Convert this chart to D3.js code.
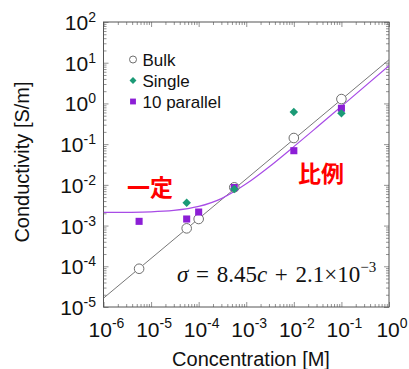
<!DOCTYPE html>
<html><head><meta charset="utf-8">
<script src="https://cdn.jsdelivr.net/npm/d3@7"></script>
<style>body{margin:0;background:#fff}svg{display:block}</style></head>
<body>
<svg id="c" width="409" height="369"></svg>
<script>
// ---- data ----
const bulkConc = [5.6e-6, 5.6e-5, 1e-4, 5.6e-4, 1e-2, 1e-1];
const bulk = [8.7e-5, 8.55e-4, 1.45e-3, 8.7e-3, 0.1415, 1.28];
const singleConc = [5.6e-5, 5.6e-4, 1e-2, 1e-1];
const single = [3.65e-3, 7.9e-3, 0.615, 0.57];
const parallelConc = [5.6e-6, 5.6e-5, 1e-4, 5.6e-4, 1e-2, 1e-1];
const parallel10 = [1.27e-3, 1.45e-3, 2.15e-3, 8.6e-3, 0.069, 0.76];
const bulkFitConc = [1e-6, 1];
const bulkFit = [1.65e-5, 11.8];
const fitConc = [1e-6, 1e-5, 3e-5, 1e-4, 3e-4, 1e-3, 3e-3, 1e-2, 3e-2, 1e-1, 1];
const fitSigma = [2.1e-3, 2.18e-3, 2.35e-3, 2.95e-3, 4.6e-3, 1.06e-2, 2.75e-2, 8.7e-2, 0.256, 0.847, 8.45];
const xTickValues = [1e-6, 1e-5, 1e-4, 1e-3, 1e-2, 1e-1, 1];
const xTickExps = ["-6", "-5", "-4", "-3", "-2", "-1", "0"];
const yTickValues = [1e-5, 1e-4, 1e-3, 1e-2, 1e-1, 1, 1e1, 1e2];
const yTickExps = ["-5", "-4", "-3", "-2", "-1", "0", "1", "2"];
const legendLabels = ["Bulk", "Single", "10 parallel"];
const xTitle = "Concentration [M]";
const yTitle = "Conductivity [S/m]";
const noteConst = "一定";
const noteProp = "比例";

// ---- layout ----
const L = 103.5, R = 389, T = 22, B = 307;
const svg = d3.select("#c");
const x = d3.scaleLog().domain([1e-6, 1]).range([L, R]);
const y = d3.scaleLog().domain([1e-5, 1e2]).range([B, T]);
const sans = "'Liberation Sans', Arial, sans-serif";
const cjk = "'Noto Sans CJK JP', sans-serif";
const serif = "'Liberation Serif', 'Times New Roman', serif";
const cGreen = "#1b9a76", cPurple = "#8c1ed6", cPurpleLine = "#a84ce6", cGray = "#6e6e6e";

svg.append("rect").attr("width", 409).attr("height", 369).attr("fill", "#fff");

// axes with inward ticks
const xMinor = x.ticks().filter(v => !xTickValues.some(t => Math.abs(t - v) / t < 1e-6));
const yMinor = y.ticks().filter(v => !yTickValues.some(t => Math.abs(t - v) / t < 1e-6));
function ax(gen, tr, vals, size) {
  const g = svg.append("g").attr("transform", tr)
    .call(gen.tickValues(vals).tickSize(size).tickSizeOuter(0).tickFormat(""));
  g.select(".domain").remove();
  g.selectAll("line").attr("stroke", "#777").attr("stroke-width", 0.8);
}
ax(d3.axisBottom(x), `translate(0,${B})`, xTickValues, -5);
ax(d3.axisBottom(x), `translate(0,${B})`, xMinor, -3);
ax(d3.axisTop(x), `translate(0,${T})`, xTickValues, -5);
ax(d3.axisTop(x), `translate(0,${T})`, xMinor, -3);
ax(d3.axisLeft(y), `translate(${L},0)`, yTickValues, -5);
ax(d3.axisLeft(y), `translate(${L},0)`, yMinor, -3);
ax(d3.axisRight(y), `translate(${R},0)`, yTickValues, -5);
ax(d3.axisRight(y), `translate(${R},0)`, yMinor, -3);

svg.append("rect").attr("x", L).attr("y", T).attr("width", R - L).attr("height", B - T)
  .attr("fill", "none").attr("stroke", "#555").attr("stroke-width", 1);

// tick labels
xTickValues.forEach((v, i) => {
  const t = svg.append("text").attr("x", x(v) + 3).attr("y", 337)
    .attr("text-anchor", "middle").attr("font-family", sans).attr("font-size", 21).attr("fill", "#111");
  t.append("tspan").text("10");
  t.append("tspan").attr("dy", -9).attr("font-size", 14).text(xTickExps[i]);
});
yTickValues.forEach((v, i) => {
  const t = svg.append("text").attr("x", 96).attr("y", y(v) + 8)
    .attr("text-anchor", "end").attr("font-family", sans).attr("font-size", 21).attr("fill", "#111");
  t.append("tspan").text("10");
  t.append("tspan").attr("dy", -8).attr("font-size", 14).text(yTickExps[i]);
});

// titles
svg.append("text").attr("x", 251).attr("y", 366).attr("text-anchor", "middle")
  .attr("font-family", sans).attr("font-size", 20).attr("fill", "#111").text(xTitle);
svg.append("text").attr("transform", `translate(29,162) rotate(-90)`).attr("text-anchor", "middle")
  .attr("font-family", sans).attr("font-size", 20).attr("fill", "#111").text(yTitle);

// lines
svg.append("clipPath").attr("id", "pc").append("rect")
  .attr("x", L).attr("y", T).attr("width", R - L).attr("height", B - T);
const lineG = svg.append("g").attr("clip-path", "url(#pc)");
lineG.append("path").datum(bulkFitConc.map((c, i) => [c, bulkFit[i]]))
  .attr("d", d3.line().x(d => x(d[0])).y(d => y(d[1])))
  .attr("fill", "none").attr("stroke", "#777").attr("stroke-width", 1);
lineG.append("path").datum(fitConc.map((c, i) => [c, fitSigma[i]]))
  .attr("d", d3.line().x(d => x(d[0])).y(d => y(d[1])).curve(d3.curveMonotoneX))
  .attr("fill", "none").attr("stroke", cPurpleLine).attr("stroke-width", 1.2);

// markers
svg.append("g").selectAll("circle").data(bulkConc).join("circle")
  .attr("cx", d => x(d)).attr("cy", (d, i) => y(bulk[i])).attr("r", 4.8)
  .attr("fill", "#fff").attr("stroke", cGray).attr("stroke-width", 1);
const sq = d3.symbol(d3.symbolSquare, 50);
svg.append("g").selectAll("path").data(parallelConc).join("path")
  .attr("d", sq).attr("transform", (d, i) => `translate(${x(d)},${y(parallel10[i])})`)
  .attr("fill", cPurple);
const dm = d3.symbol(d3.symbolSquare, 36);
svg.append("g").selectAll("path").data(singleConc).join("path")
  .attr("d", dm).attr("transform", (d, i) => `translate(${x(d)},${y(single[i])}) rotate(45)`)
  .attr("fill", cGreen);

// legend
const legY = [59.5, 80.5, 101.5];
svg.append("circle").attr("cx", 133).attr("cy", legY[0]).attr("r", 3.5)
  .attr("fill", "#fff").attr("stroke", cGray).attr("stroke-width", 1);
svg.append("path").attr("d", d3.symbol(d3.symbolSquare, 24))
  .attr("transform", `translate(133,${legY[1]}) rotate(45)`).attr("fill", cGreen);
svg.append("path").attr("d", d3.symbol(d3.symbolSquare, 34))
  .attr("transform", `translate(133,${legY[2]})`).attr("fill", cPurple);
legendLabels.forEach((s, i) => {
  svg.append("text").attr("x", 142.5).attr("y", legY[i] + 6).attr("font-family", sans)
    .attr("font-size", 17).attr("fill", "#111").text(s);
});

// annotations
svg.append("text").attr("x", 127).attr("y", 195.5).attr("font-family", cjk).attr("font-weight", "bold")
  .attr("font-size", 23).attr("fill", "#ff0000").text(noteConst);
svg.append("text").attr("x", 298).attr("y", 181.5).attr("font-family", cjk).attr("font-weight", "bold")
  .attr("font-size", 23).attr("fill", "#ff0000").text(noteProp);

// equation
const eq = svg.append("text").attr("x", 177).attr("y", 282).attr("font-family", serif)
  .attr("font-size", 23).attr("fill", "#111");
eq.append("tspan").attr("font-style", "italic").text("σ");
eq.append("tspan").text("\u2004=\u20048.45");
eq.append("tspan").attr("font-style", "italic").text("c");
eq.append("tspan").text("\u2004+\u20042.1×10");
eq.append("tspan").attr("dy", -10).attr("font-size", 15).text("−3");
</script>
</body></html>
